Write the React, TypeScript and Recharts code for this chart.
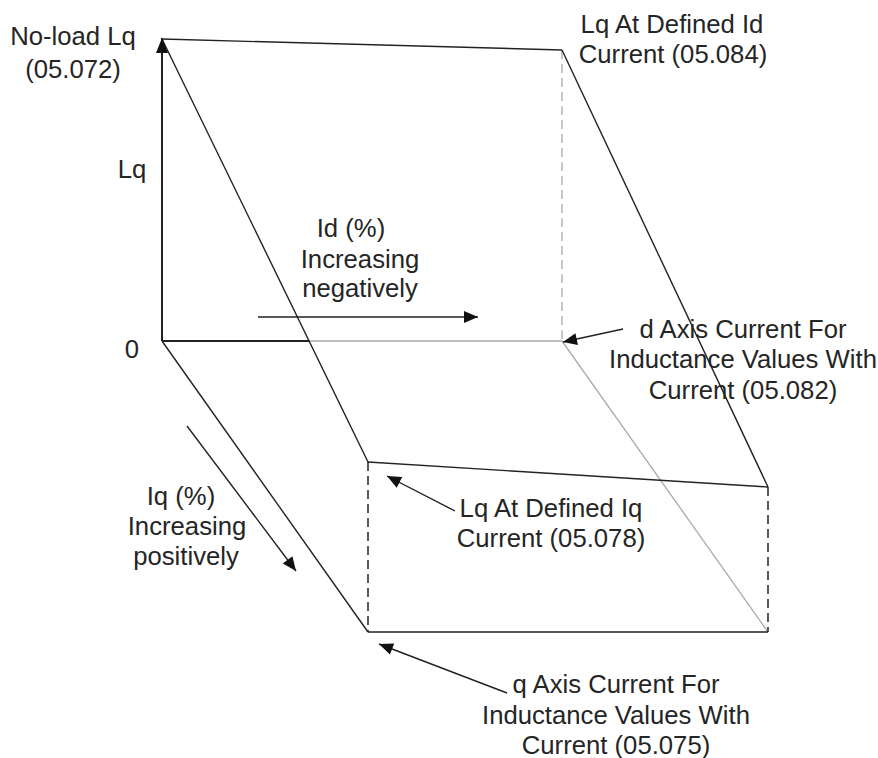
import React from 'react';
import { ComposedChart, Line, Scatter, XAxis, YAxis } from 'recharts';

type P = { x: number; y: number };

// ---- diagram vertices (diagram units; y grows downward) ----
const origin: P = { x: 162, y: 341 };
const lqAxisTip: P = { x: 162, y: 38 };
const noLoadLq: P = { x: 162, y: 39 };
const lqAtId: P = { x: 562, y: 50 };
const dAxisCurrent: P = { x: 562, y: 341 };
const qAxisCurrent: P = { x: 368, y: 632 };
const lqAtIq: P = { x: 368, y: 462 };
const lqAtIdIq: P = { x: 768, y: 487 };
const floorCorner: P = { x: 768, y: 632 };
const hiddenCross: P = { x: 309, y: 341 };

// ---- edges ----
const solidEdges: P[][] = [
  [noLoadLq, lqAtId],
  [noLoadLq, lqAtIq],
  [lqAtId, lqAtIdIq],
  [lqAtIq, lqAtIdIq],
  [origin, qAxisCurrent],
  [qAxisCurrent, floorCorner],
];
const axisEdges: P[][] = [[origin, hiddenCross]];
const hiddenEdges: P[][] = [
  [hiddenCross, dAxisCurrent],
  [dAxisCurrent, floorCorner],
];
const hiddenDashedEdges: P[][] = [[lqAtId, dAxisCurrent]];
const dashedEdges: P[][] = [
  [lqAtIq, qAxisCurrent],
  [lqAtIdIq, floorCorner],
];

// ---- arrows (from -> to) ----
const lqAxisArrow: P[] = [origin, lqAxisTip];
const pointerArrows: P[][] = [
  [{ x: 258, y: 317 }, { x: 478, y: 317 }],
  [{ x: 187, y: 426 }, { x: 296, y: 571 }],
  [{ x: 623, y: 329 }, { x: 563, y: 342 }],
  [{ x: 455, y: 511 }, { x: 387, y: 476 }],
  [{ x: 507, y: 693 }, { x: 379, y: 644 }],
];

// ---- text labels (anchor = centre of baseline) ----
const labelTexts: string[] = [
  'No-load Lq', '(05.072)',
  'Lq',
  'Lq At Defined Id', 'Current (05.084)',
  'Id (%)', 'Increasing', 'negatively',
  '0',
  'd Axis Current For', 'Inductance Values With', 'Current (05.082)',
  'Iq (%)', 'Increasing', 'positively',
  'Lq At Defined Iq', 'Current (05.078)',
  'q Axis Current For', 'Inductance Values With', 'Current (05.075)',
];
const labelAnchors: P[] = [
  { x: 73, y: 45 }, { x: 73, y: 78 },
  { x: 132, y: 178 },
  { x: 672, y: 33 }, { x: 673, y: 63 },
  { x: 351, y: 237 }, { x: 360, y: 268 }, { x: 360, y: 297 },
  { x: 132, y: 358 },
  { x: 743, y: 338 }, { x: 743, y: 368 }, { x: 743, y: 399 },
  { x: 181, y: 505 }, { x: 187, y: 535 }, { x: 186, y: 565 },
  { x: 551, y: 517 }, { x: 551, y: 547 },
  { x: 616, y: 693 }, { x: 616, y: 724 }, { x: 616, y: 754 },
];

const W = 878;
const H = 758;
const DARK = '#222';
const GREY = '#aaa';
const FONT = '"Liberation Sans", Arial, sans-serif';

const labelData = labelTexts.map((t, i) => ({ ...labelAnchors[i], text: t }));

const arrowDot = (seg: P[], len: number, half: number) => (props: any) => {
  const { cx, cy, index } = props;
  if (index !== seg.length - 1 || cx == null) return <g key={`n${index}`} />;
  const a = seg[seg.length - 2];
  const b = seg[seg.length - 1];
  const ang = Math.atan2(b.y - a.y, b.x - a.x);
  const c = Math.cos(ang);
  const s = Math.sin(ang);
  const bx = cx - len * c;
  const by = cy - len * s;
  const pts = [
    [cx, cy],
    [bx - half * s, by + half * c],
    [bx + half * s, by - half * c],
  ]
    .map((p) => p.join(','))
    .join(' ');
  return <polygon key={`a${index}`} points={pts} fill="#111" stroke="none" />;
};

const TextShape = (props: any) => {
  const { cx, cy, payload } = props;
  return (
    <text
      x={cx}
      y={cy}
      textAnchor="middle"
      fontFamily={FONT}
      fontSize={25.7}
      fill="#252525"
    >
      {payload.text}
    </text>
  );
};

export default function App() {
  let k = 0;
  const seg = (
    pts: P[],
    stroke: string,
    width: number,
    dash?: string,
    dot: any = false
  ) => (
    <Line
      key={`l${k++}`}
      data={pts}
      dataKey="y"
      type="linear"
      stroke={stroke}
      strokeWidth={width}
      strokeDasharray={dash}
      dot={dot}
      activeDot={false}
      isAnimationActive={false}
      legendType="none"
    />
  );

  return (
    <div style={{ position: 'absolute', left: 0, top: 0, width: W, height: H, background: '#fff' }}>
      <ComposedChart width={W} height={H} margin={{ top: 0, right: 0, bottom: 0, left: 0 }}>
        <XAxis type="number" dataKey="x" domain={[0, W]} hide allowDataOverflow />
        <YAxis type="number" dataKey="y" domain={[0, H]} reversed hide allowDataOverflow />
        {hiddenEdges.map((e) => seg(e, GREY, 1.3))}
        {hiddenDashedEdges.map((e) => seg(e, GREY, 1.3, '9 5'))}
        {dashedEdges.map((e) => seg(e, DARK, 1.5, '9 5'))}
        {solidEdges.map((e) => seg(e, DARK, 1.4))}
        {axisEdges.map((e) => seg(e, DARK, 2))}
        {seg(lqAxisArrow, DARK, 2, undefined, arrowDot(lqAxisArrow, 15, 6))}
        {pointerArrows.map((e) => seg(e, DARK, 1.4, undefined, arrowDot(e, 14, 6)))}
        <Scatter data={labelData} dataKey="y" shape={TextShape} isAnimationActive={false} legendType="none" />
      </ComposedChart>
    </div>
  );
}
